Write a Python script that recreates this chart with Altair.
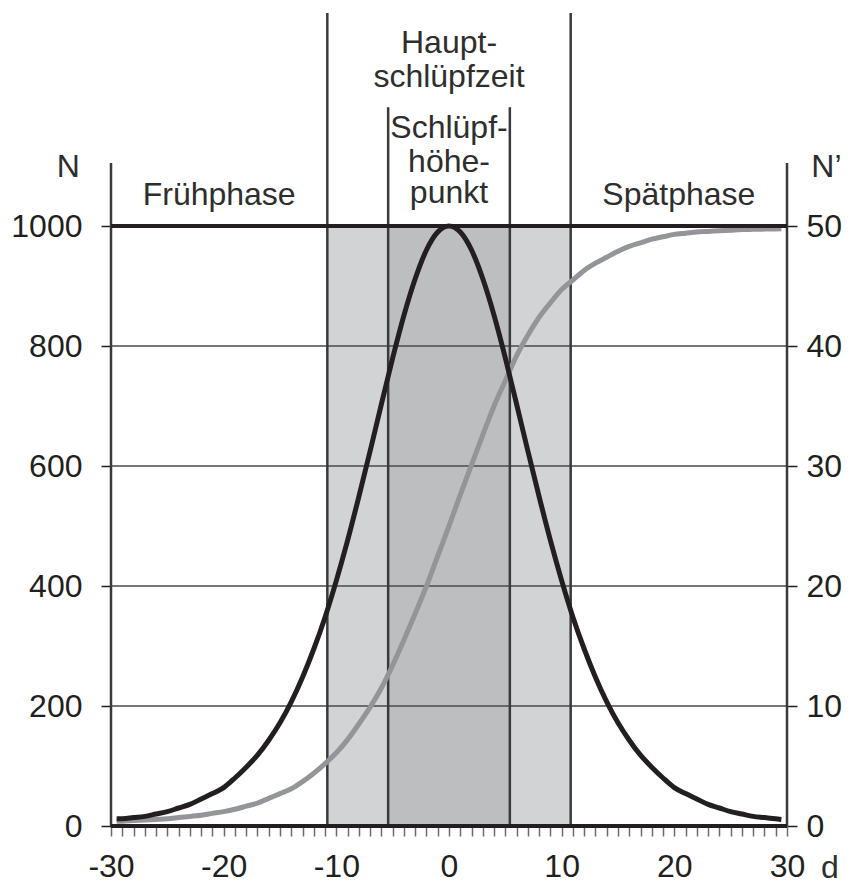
import altair as alt
import pandas as pd

# ---- data ----
days = [-29.5, -29, -28, -27, -26, -25, -24, -23, -22, -21, -20, -19, -18, -17, -16,
        -15, -14, -13, -12, -11, -10, -9, -8, -7, -6, -5, -4, -3, -2, -1, 0,
        1, 2, 3, 4, 5, 6, 7, 8, 9, 10, 11, 12, 13, 14, 15, 16, 17, 18, 19, 20,
        21, 22, 23, 24, 25, 26, 27, 28, 29, 29.5]

# hatching per day, N (left axis, black curve)
hatch_n = [12, 12, 14, 16, 20, 24, 30, 36, 45, 54, 64, 80, 98, 118, 143,
           172, 207, 248, 295, 348, 409, 476, 549, 625, 703, 780, 851, 912, 960, 990, 1000,
           990, 960, 912, 851, 780, 703, 625, 549, 476, 409, 348, 295, 248, 207, 172, 143,
           118, 98, 80, 64, 54, 45, 36, 30, 24, 20, 16, 14, 12, 11]

# cumulative hatching, N' (right axis, grey curve)
cum_n = [0.4, 0.4, 0.45, 0.5, 0.55, 0.6, 0.7, 0.8, 0.9, 1.05, 1.2, 1.4, 1.65, 1.9, 2.3,
         2.7, 3.1, 3.7, 4.4, 5.2, 6.1, 7.2, 8.5, 9.9, 11.5, 13.4, 15.5, 17.7, 20.0, 22.5, 25.0,
         27.6, 30.1, 32.6, 35.0, 37.1, 39.2, 40.9, 42.4, 43.6, 44.7, 45.5, 46.3, 46.9, 47.4,
         47.9, 48.3, 48.6, 48.9, 49.1, 49.3, 49.4, 49.5, 49.55, 49.6, 49.65, 49.7, 49.72,
         49.74, 49.76, 49.77]

band_start = [-10.8, -5.4, 5.4]
band_end = [-5.4, 5.4, 10.8]
band_kind = ["Hauptschlüpfzeit", "Schlüpfhöhepunkt", "Hauptschlüpfzeit"]

sep_pos = [-10.8, -5.4, 5.4, 10.8, -30, 30]
sep_top = [1355, 1198, 1198, 1355, 1105, 1105]

hline_n = [200, 400, 600, 800, 0, 1000]
hline_kind = ["grid", "grid", "grid", "grid", "frame", "frame"]

left_ticks = [0, 200, 400, 600, 800, 1000]
right_ticks = [0, 10, 20, 30, 40, 50]
x_ticks = list(range(-30, 31))

label_text = ["Frühphase", "Spätphase", "Haupt-", "schlüpfzeit", "Schlüpf-", "höhe-",
              "punkt", "N", "N\u2019", "d"]
label_x = [-20.4, 20.4, 0, 0, 0, 0, 0, -33.8, 33.5, 33.8]
label_y = [1035, 1035, 1288, 1232, 1147, 1090, 1038, 1082, 1082, -86]

# ---- tables ----
curve = pd.DataFrame({"day": days, "N": hatch_n, "Ncum": cum_n})
bands = pd.DataFrame({"start": band_start, "end": band_end, "kind": band_kind})
seps = pd.DataFrame({"pos": sep_pos, "top": sep_top})
hlines = pd.DataFrame({"n": hline_n, "kind": hline_kind})
labels = pd.DataFrame({"x": label_x, "y": label_y, "text": label_text})

FONT = "Liberation Sans"
INK = "#231f20"
TXT = "#2e2e2e"

x_scale = alt.Scale(domain=[-30, 30], nice=False, zero=False)
y_scale = alt.Scale(domain=[0, 1360], nice=False, zero=False)
yr_scale = alt.Scale(domain=[0, 68], nice=False, zero=False)

band_layer = alt.Chart(bands).transform_calculate(
    lo="0", hi="1000"
).mark_rect().encode(
    x=alt.X("start:Q", scale=x_scale, axis=None),
    x2="end:Q",
    y=alt.Y("lo:Q", scale=y_scale, axis=None),
    y2="hi:Q",
    color=alt.Color("kind:N", legend=None,
                    scale=alt.Scale(domain=["Hauptschlüpfzeit", "Schlüpfhöhepunkt"],
                                    range=["#d1d3d4", "#bcbec0"])),
)

grid_layer = alt.Chart(hlines).transform_filter(
    "datum.kind === 'grid'"
).transform_calculate(x0="-30", x1="30").mark_rule(
    color="#4a4a4c", strokeWidth=1.5
).encode(
    y=alt.Y("n:Q", scale=y_scale, axis=None),
    x=alt.X("x0:Q", scale=x_scale, axis=None),
    x2="x1:Q",
)

sep_layer = alt.Chart(seps).transform_calculate(lo="0").mark_rule(
    color="#3a3a3c", strokeWidth=2.5
).encode(
    x=alt.X("pos:Q", scale=x_scale, axis=None),
    y=alt.Y("lo:Q", scale=y_scale, axis=None),
    y2="top:Q",
)

cum_layer = alt.Chart(curve).mark_line(
    color="#939598", strokeWidth=5, interpolate="monotone"
).encode(
    x=alt.X("day:Q", scale=x_scale, axis=None),
    y=alt.Y("Ncum:Q", scale=yr_scale, axis=alt.Axis(
        orient="right", values=right_ticks, title=None, domain=False, grid=False,
        tickSize=10, tickWidth=1.5, tickColor=INK,
        labelFont=FONT, labelFontSize=32, labelColor=INK, labelPadding=9,
        labelExpr="'' + datum.value",
    )),
)

hatch_layer = alt.Chart(curve).mark_line(
    color=INK, strokeWidth=5, interpolate="monotone"
).encode(
    x=alt.X("day:Q", scale=x_scale, axis=alt.Axis(
        values=x_ticks, title=None, domain=False, grid=False,
        tickSize=10, tickWidth=1.5, tickColor="#6d6e71",
        labelFont=FONT, labelFontSize=32, labelColor=INK, labelPadding=15,
        labelFlush=False, labelOverlap=False,
        labelExpr="datum.value % 10 === 0 ? '' + datum.value : ''",
    )),
    y=alt.Y("N:Q", scale=y_scale, axis=alt.Axis(
        values=left_ticks, title=None, domain=False, grid=False,
        tickSize=10, tickWidth=1.5, tickColor=INK,
        labelFont=FONT, labelFontSize=32, labelColor=INK, labelPadding=19,
        labelExpr="'' + datum.value",
    )),
)

frame_layer = alt.Chart(hlines).transform_filter(
    "datum.kind === 'frame'"
).transform_calculate(x0="-30", x1="30").mark_rule(
    color=INK, strokeWidth=4
).encode(
    y=alt.Y("n:Q", scale=y_scale, axis=None),
    x=alt.X("x0:Q", scale=x_scale, axis=None),
    x2="x1:Q",
)

text_layer = alt.Chart(labels).mark_text(
    font=FONT, fontSize=32, color=TXT, align="center", baseline="alphabetic"
).encode(
    x=alt.X("x:Q", scale=x_scale, axis=None),
    y=alt.Y("y:Q", scale=y_scale, axis=None),
    text="text:N",
)

chart = alt.layer(
    band_layer, grid_layer, sep_layer, cum_layer, hatch_layer,
    frame_layer, text_layer,
).resolve_scale(y="independent").resolve_axis(x="independent").properties(
    width=676, height=816,
    padding={"left": 103, "top": 2, "right": 58, "bottom": 54},
    autosize=alt.AutoSizeParams(type="none"),
    background="white",
).configure_view(stroke=None)

chart.save("out.html", embed_options={"renderer": "svg", "actions": False})
